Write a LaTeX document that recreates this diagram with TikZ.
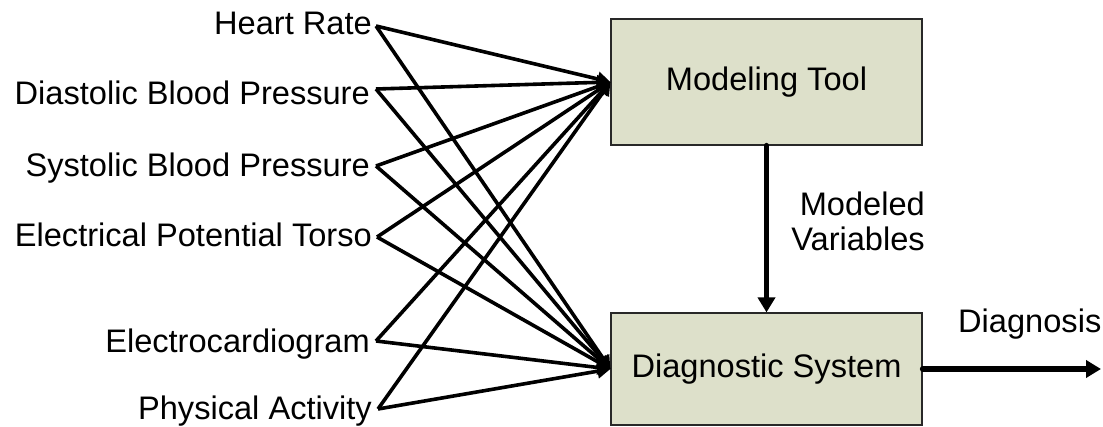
\documentclass[tikz,border=0pt]{standalone}
\usepackage{fontspec}
\setmainfont{Liberation Sans}
\usetikzlibrary{arrows.meta}
\definecolor{boxfill}{RGB}{221,224,202}
\definecolor{boxline}{RGB}{40,40,40}
\tikzset{
  inlabel/.style={anchor=base east, inner sep=0pt, font=\fontsize{32.6}{35}\selectfont},
  txt/.style={inner sep=0pt, font=\fontsize{32.6}{35}\selectfont},
  block/.style={draw=boxline, line width=1.2pt, fill=boxfill, inner sep=0pt, font=\fontsize{32.6}{35}\selectfont},
  inarrow/.style={line width=3.6pt, -{Triangle[length=13pt,width=14pt]}},
  bigarrow/.style={line width=5.5pt, line cap=round, -{Triangle[length=15pt,width=17pt]}}
}
\begin{document}
\begin{tikzpicture}[x=1pt,y=-1pt]
\useasboundingbox (0,0) rectangle (1103,427);
% blocks
\node[block, minimum width=311pt, minimum height=126pt] (mt) at (766.5,82) {Modeling Tool};
\node[block, minimum width=311pt, minimum height=112pt] (ds) at (766.5,369) {Diagnostic System};
% input labels
\node[inlabel] (hr)  at (372,35)  {Heart Rate};
\node[inlabel] (dbp) at (370,105) {Diastolic Blood Pressure};
\node[inlabel] (sbp) at (370,177) {Systolic Blood Pressure};
\node[inlabel] (ept) at (372,247) {Electrical Potential Torso};
\node[inlabel] (ecg) at (370,353) {Electrocardiogram};
\node[inlabel] (pa)  at (372,420) {Physical Activity};
% connectors from inputs
\foreach \n/\dx/\dy in {hr/4/-9, dbp/6/-16, sbp/6/-11, ept/5/-10, ecg/6/-12, pa/6/-11}{
  \draw[inarrow] ([shift={(\dx,\dy)}]\n.base east) -- (mt.west);
  \draw[inarrow] ([shift={(\dx,\dy)}]\n.base east) -- (ds.west);
}
% modeling tool to diagnostic system
\draw[bigarrow] (mt.south) -- (ds.north);
\node[txt, align=right, anchor=east] (mv) at (925,221) {Modeled\\Variables};
% output
\coordinate (out) at (1101,369);
\draw[bigarrow] (ds.east) -- (out);
\node[txt, anchor=base west] (dg) at (958,333) {Diagnosis};
\end{tikzpicture}
\end{document}
